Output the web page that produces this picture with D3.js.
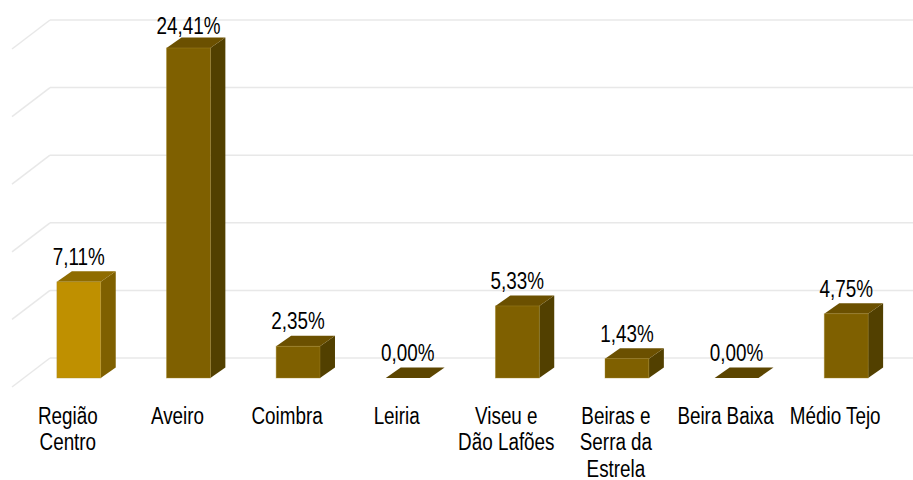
<!DOCTYPE html>
<html>
<head>
<meta charset="utf-8">
<script src="https://cdn.jsdelivr.net/npm/d3@7"></script>
<style>
  html, body { margin: 0; padding: 0; background: #fff; }
  svg text { font-family: "Liberation Sans Narrow", "Arial Narrow", "Liberation Sans", Arial, sans-serif; fill: #000; }
</style>
</head>
<body>
<div class="chart"></div>
<script>
// chart data
const categories = ['Região Centro', 'Aveiro', 'Coimbra', 'Leiria', 'Viseu e Dão Lafões',
  'Beiras e Serra da Estrela', 'Beira Baixa', 'Médio Tejo'];
const values = [7.11, 24.41, 2.35, 0.00, 5.33, 1.43, 0.00, 4.75];
// wrapped category lines, as in the picture
const categoryLines = [['Região', 'Centro'], ['Aveiro'], ['Coimbra'], ['Leiria'], ['Viseu e', 'Dão Lafões'],
  ['Beiras e', 'Serra da', 'Estrela'], ['Beira Baixa'], ['Médio Tejo']];
const gridTicks = [0, 5, 10, 15, 20, 25];

const width = 913;
const height = 480;

// 3d depth of each bar and of the whole plot
const barDx = 15, barDy = 10.5;
const wallDx = 38, wallDy = 29;

// no narrow font installed, so squeeze the regular one
const squeeze = 0.82;

const svg = d3.select('.chart')
  .append('svg')
  .attr('width', width)
  .attr('height', height);

const x = d3.scaleBand()
  .domain(categories)
  .range([24, 901])
  .paddingInner(0.6)
  .paddingOuter(0.3);

// y for the front face of the bars
const y = d3.scaleLinear()
  .domain([0, 25])
  .range([378, 40]);

// back wall sits a bit higher than the bar fronts
const wallShift = -20;

const grid = svg.append('g');
gridTicks.forEach(t => {
  const gy = y(t) + wallShift;
  grid.append('line')
    .attr('x1', 12).attr('y1', gy + wallDy)
    .attr('x2', 12 + wallDx).attr('y2', gy)
    .attr('stroke', '#e8e8e8').attr('stroke-width', 1.5);
  grid.append('line')
    .attr('x1', 12 + wallDx).attr('y1', gy)
    .attr('x2', width).attr('y2', gy)
    .attr('stroke', '#e8e8e8').attr('stroke-width', 1.5);
});

const palette = [
  { front: '#bf9000', top: '#8f6c00', side: '#7f6000' },
  { front: '#7f6000', top: '#6b5000', side: '#524000' }
];

const bars = svg.append('g')
  .selectAll('g')
  .data(categories.map((c, i) => ({ c, v: values[i], i })))
  .enter()
    .append('g');

bars.each(function(d) {
  const g = d3.select(this);
  const col = d.i === 0 ? palette[0] : palette[1];
  const x0 = x(d.c), x1 = x0 + x.bandwidth();
  const yt = y(d.v), yb = y(0);
  // side
  g.append('path')
    .attr('d', `M${x1},${yb}L${x1 + barDx},${yb - barDy}L${x1 + barDx},${yt - barDy}L${x1},${yt}Z`)
    .attr('fill', col.side);
  // top
  g.append('path')
    .attr('d', `M${x0},${yt}L${x0 + barDx},${yt - barDy}L${x1 + barDx},${yt - barDy}L${x1},${yt}Z`)
    .attr('fill', d.v === 0 ? '#5c4500' : col.top);
  // front
  if (d.v > 0) {
    g.append('rect')
      .attr('x', x0).attr('y', yt)
      .attr('width', x.bandwidth()).attr('height', yb - yt)
      .attr('fill', col.front)
      .attr('stroke', '#a88a2a').attr('stroke-opacity', 0.5).attr('stroke-width', 0.8);
  }
});

// value labels
bars.append('text')
  .attr('transform', d => `translate(${x(d.c) + x.bandwidth() / 2},${Math.max(34, y(d.v) - 17)}) scale(${squeeze},1)`)
  .attr('text-anchor', 'middle')
  .style('font-size', '23px')
  .text(d => d.v.toFixed(2).replace('.', ',') + '%');

// category labels
const labels = svg.append('g')
  .selectAll('text')
  .data(categories)
  .enter()
    .append('text')
    .attr('text-anchor', 'middle')
    .style('font-size', '23px')
    .attr('transform', d => `translate(${x(d) + x.bandwidth() / 2 - 11},424) scale(${squeeze},1)`);

labels.selectAll('tspan')
  .data((d, i) => categoryLines[i])
  .enter()
    .append('tspan')
    .attr('x', 0)
    .attr('y', (d, i) => i * 26.5)
    .text(d => d);
</script>
</body>
</html>
